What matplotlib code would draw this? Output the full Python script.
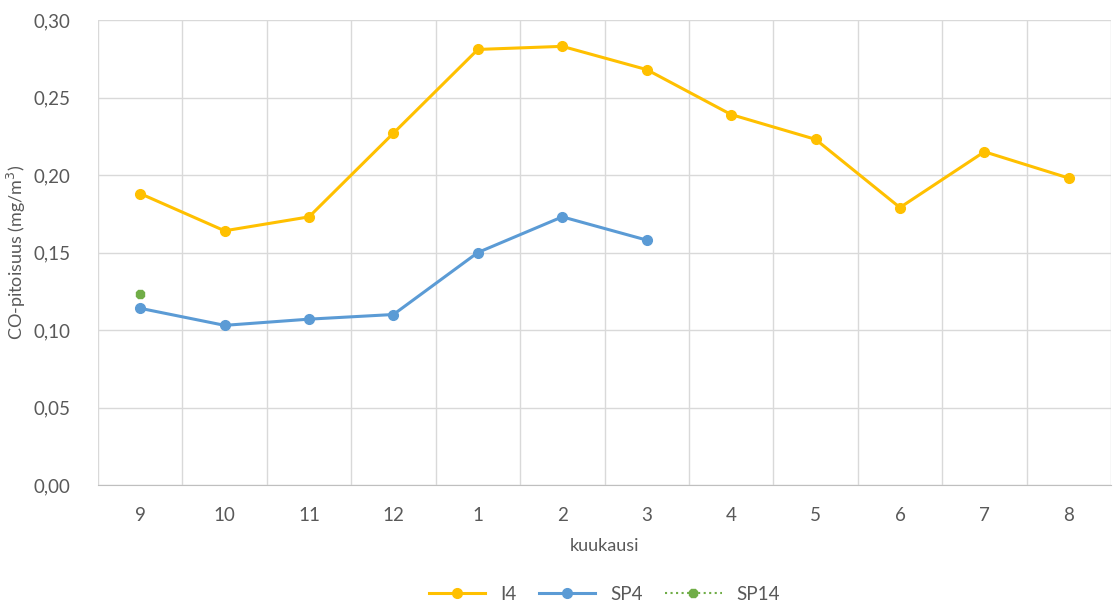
import numpy as np
import matplotlib.pyplot as plt

months = ['9', '10', '11', '12', '1', '2', '3', '4', '5', '6', '7', '8']
i4 = [0.188, 0.164, 0.173, 0.227, 0.281, 0.283, 0.268, 0.239, 0.223, 0.179, 0.215, 0.198]
sp4 = [0.114, 0.103, 0.107, 0.110, 0.150, 0.173, 0.158]
sp14 = [0.123]

plt.rcParams['font.family'] = ['Lato', 'DejaVu Sans']

fig = plt.figure(figsize=(11.17, 6.03), dpi=100)
ax = fig.add_axes([98 / 1117, 1 - 485 / 603, 1013 / 1117, 465 / 603])

x = np.arange(len(months))
ax.plot(x, i4, color='#FFC000', lw=2.2, marker='o', ms=7, label='I4', zorder=3)
ax.plot(x[:len(sp4)], sp4, color='#5B9BD5', lw=2.2, marker='o', ms=7, label='SP4', zorder=3)
ax.plot(x[:len(sp14)], sp14, color='#70AD47', lw=1.5, ls=':', marker='8', ms=6, label='SP14', zorder=3)

ax.set_xlim(-0.5, len(months) - 0.5)
ax.set_ylim(0, 0.30)
ax.set_yticks(np.arange(0, 0.301, 0.05))
ax.set_yticklabels([f'{v:.2f}'.replace('.', ',') for v in np.arange(0, 0.301, 0.05)])
ax.set_xticks(x)
ax.set_xticklabels(months)
ax.set_xticks(np.arange(-0.5, len(months), 1), minor=True)

ax.grid(True, which='major', axis='y', color='#D9D9D9', lw=1)
ax.grid(True, which='minor', axis='x', color='#D9D9D9', lw=1)
ax.set_axisbelow(True)
ax.tick_params(which='both', length=0, labelsize=13.5, colors='#595959')
ax.tick_params(axis='x', pad=16)
ax.tick_params(axis='y', pad=20)
for s in ['top', 'right', 'left']:
    ax.spines[s].set_visible(False)
ax.spines['bottom'].set_color('#BFBFBF')

ax.set_ylabel('CO-pitoisuus (mg/m$^3$)', fontsize=13, color='#595959', labelpad=4)
ax.set_xlabel('kuukausi', fontsize=13, color='#595959', labelpad=10)

ax.legend(loc='center', bbox_to_anchor=(0.5, -0.235), ncol=3, frameon=False,
          fontsize=13.5, labelcolor='#595959', handlelength=3, columnspacing=1.2)

fig.savefig('out.png', dpi=100)
